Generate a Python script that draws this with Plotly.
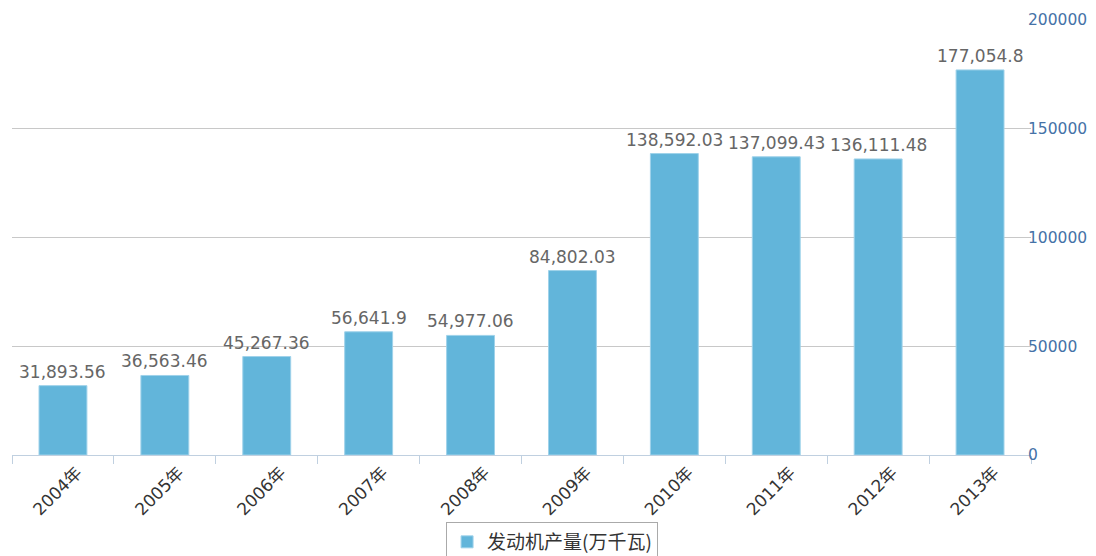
import plotly.graph_objects as go

categories = ["2004年", "2005年", "2006年", "2007年", "2008年", "2009年", "2010年", "2011年", "2012年", "2013年"]
values = [31893.56, 36563.46, 45267.36, 56641.9, 54977.06, 84802.03, 138592.03, 137099.43, 136111.48, 177054.8]
series_name = "发动机产量(万千瓦)"
y_ticks = [0, 50000, 100000, 150000, 200000]

labels = [f"{v:,}" for v in values]

fig = go.Figure()
fig.add_trace(go.Bar(
    x=categories, y=values, name=series_name,
    marker=dict(color="#62b5da", line=dict(color="#9fd2ea", width=1)),
    showlegend=True,
))

for c, v, t in zip(categories, values, labels):
    fig.add_annotation(
        x=c, y=v, text=t, showarrow=False, yanchor="bottom", yshift=2,
        font=dict(family="DejaVu Sans, Noto Sans CJK SC", size=17, color="#666666"),
    )

# page body has an 8px margin; the legend runs past the bottom of the window as in the reference
fig.update_layout(
    width=1080, height=560,
    margin=dict(l=4, r=57, t=12, b=113),
    plot_bgcolor="white", paper_bgcolor="white",
    bargap=0.53,
    font=dict(family="DejaVu Sans, Noto Sans CJK SC"),
    legend=dict(
        orientation="h", x=0.53, xanchor="center", y=-0.154, yanchor="top",
        bordercolor="#aaaaaa", borderwidth=1, bgcolor="white",
        font=dict(family="Noto Sans CJK SC", size=19, color="#333333"),
    ),
    xaxis=dict(
        type="category", tickson="boundaries", ticks="outside", ticklen=8,
        tickcolor="#c0d0e0", showline=True, linecolor="#c0d0e0", linewidth=1,
        tickangle=-45, showgrid=False, automargin=False, ticklabelshift=14,
        tickfont=dict(family="DejaVu Sans, Noto Sans CJK SC", size=17, color="#333333"),
    ),
    yaxis=dict(
        side="right", range=[0, 200000], tickvals=y_ticks,
        ticktext=[str(t) for t in y_ticks], automargin=False,
        showgrid=True, gridcolor="#c8c8c8", gridwidth=1, zeroline=False,
        ticks="", ticklabelstandoff=-4,
        tickfont=dict(family="DejaVu Sans", size=15.5, color="#4572a7"),
    ),
)

fig.write_html("out.html")
